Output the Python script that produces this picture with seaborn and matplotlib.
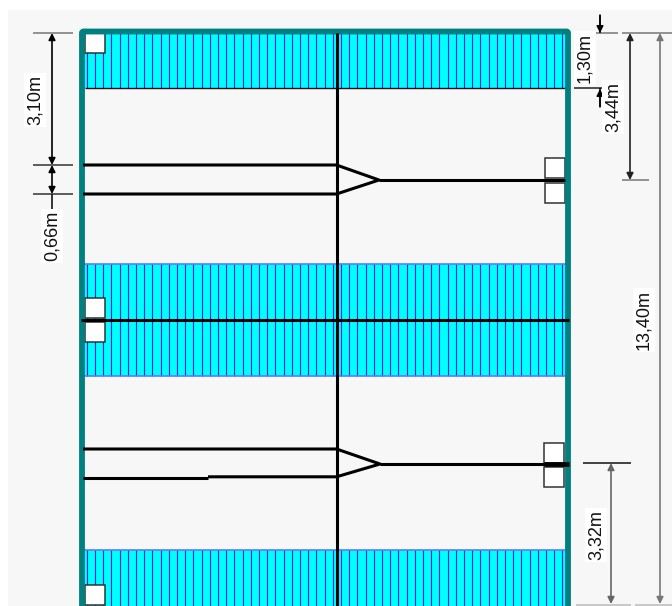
import numpy as np
import pandas as pd
import matplotlib
matplotlib.use('Agg')
import matplotlib.pyplot as plt
import seaborn as sns
from matplotlib.patches import Rectangle

sns.set_theme(style='white')
plt.rcParams['font.family'] = ['Liberation Sans', 'DejaVu Sans']

# all measured in picture pixels
band_top = [33, 264, 550]
band_bottom = [88, 376, 606]
wall_left = 82
wall_right = 568
wall_top = 31.5
bottom = 606
center_x = 336.5
middle_y = 320

# lanes: upper edge, lower edge, tip x, tip y, where the lower edge ends on the left
lane_upper = [165, 449]
lane_lower = [194, 476.8]
tip_x = [379, 380]
tip_y = [180, 464]
lane_end = [83, 208]

box_x = [85, 545, 545, 85, 85, 544, 544, 85]
box_y = [33, 158, 183, 298, 322, 443, 467, 585]

# dimension arrows: x, y from, y to, colour
dim_x = [52, 52, 630, 660, 611]
dim_start = [33, 165, 33, 33, 463]
dim_end = [165, 194, 180, 604, 604]
dim_color = ['black', 'black', '#222222', '#777777', '#666666']

# label, x, y
labels = ['3,10m', '0,66m', '1,30m', '3,44m', '13,40m', '3,32m']
label_x = [35, 52, 585, 613, 644, 596]
label_y = [100, 236, 58, 107, 320, 535]

# witness lines: y, x from, x to, colour
wit_y = [33, 165, 194, 33, 88, 33, 180, 463, 605, 605]
wit_from = [33, 33, 33, 574, 574, 622, 622, 583, 576, 635]
wit_to = [73, 73, 73, 618, 602, 672, 649, 631, 631, 672]
wit_color = ['#777777', '#333333', '#333333', '#777777', '#222222',
             '#777777', '#777777', '#111111', '#bbbbbb', '#bbbbbb']


def segs(ax, pieces, color, lw, z=4):
    # every piece is a polyline, drawn through seaborn
    rows = []
    for i, p in enumerate(pieces):
        for x, y in p:
            rows.append({'x': x, 'y': y, 'seg': i})
    sns.lineplot(data=pd.DataFrame(rows), x='x', y='y', units='seg', estimator=None,
                 sort=False, color=color, linewidth=lw, ax=ax, legend=False,
                 solid_capstyle='butt', zorder=z)


def arrow(ax, x, y0, y1, color='black'):
    ax.annotate('', xy=(x, y1), xytext=(x, y0), zorder=6,
                arrowprops=dict(arrowstyle='<|-|>', color=color, lw=1.2, shrinkA=0, shrinkB=0,
                                mutation_scale=10))


fig, ax = plt.subplots(figsize=(6.72, 6.06), dpi=100)
fig.subplots_adjust(0, 0, 1, 1)
ax.set_xlim(0, 672)
ax.set_ylim(606, 0)
ax.axis('off')

ax.add_patch(Rectangle((8, 10), 664, 596, fc='#f7f7f7', ec='none', zorder=0))

# cyan bands with blue stripes
stripes = np.concatenate([[86.5], np.arange(95, 564, 8.2)])
for top, bot in zip(band_top, band_bottom):
    ax.add_patch(Rectangle((wall_left, top), wall_right - wall_left, bot - top,
                           fc='#00ffff', ec='none', zorder=1))
    segs(ax, [[(x, top), (x, bot)] for x in stripes], '#1a1aff', 0.8, z=2)
    segs(ax, [[(85, top), (565, top)]], '#5a7aff', 1.2, z=2)
segs(ax, [[(85, band_bottom[0]), (565, band_bottom[0])]], '#111111', 1.0, z=2)
segs(ax, [[(85, band_bottom[1]), (565, band_bottom[1])]], '#5a7aff', 1.2, z=2)

# teal frame, black lines go over it
frame = [[(wall_left, bottom), (wall_left, wall_top + 1), (wall_left + 1, wall_top),
          (wall_right - 1, wall_top), (wall_right, wall_top + 1), (wall_right, bottom)]]
segs(ax, frame, '#008080', 4.2)

# black road lines
lines = [[(center_x, 33), (center_x, bottom)],
         [(81, middle_y), (wall_right + 1, middle_y)]]
for up, low, tx, ty, end in zip(lane_upper, lane_lower, tip_x, tip_y, lane_end):
    lines.append([(83, up), (center_x, up), (tx, ty), (center_x, low), (end, low)])
    lines.append([(tx, ty), (565, ty)])
lines.append([(83, 478), (lane_end[1], 478)])
segs(ax, lines, 'black', 2.2)
segs(ax, [[(544, tip_y[1]), (wall_right + 1, tip_y[1])]], 'black', 3.4)

# white boxes
for x, y in zip(box_x, box_y):
    ax.add_patch(Rectangle((x, y), 20, 20, fc='white', ec='#333333', lw=1.1, zorder=3.5))

# dimensions
for y, x0, x1, c in zip(wit_y, wit_from, wit_to, wit_color):
    segs(ax, [[(x0, y), (x1, y)]], c, 1.1)
for x, y0, y1, c in zip(dim_x, dim_start, dim_end, dim_color):
    arrow(ax, x, y0, y1, c)
segs(ax, [[(52, 194), (52, 212)], [(600, 15), (600, 33)], [(600, 88), (600, 107)]], 'black', 1.1)
for x, y0, y1 in [(600, 15, 33), (600, 107, 89)]:
    ax.annotate('', xy=(x, y1), xytext=(x, y0), zorder=6,
                arrowprops=dict(arrowstyle='-|>', color='black', lw=1.1, shrinkA=0, shrinkB=0,
                                mutation_scale=10))

for t, x, y in zip(labels, label_x, label_y):
    ax.text(x, y, t, rotation=90, ha='center', va='center', fontsize=13, color='#111111', zorder=7,
            bbox=dict(fc='white', ec='none', pad=1.5))

fig.savefig('out.png', dpi=100)
